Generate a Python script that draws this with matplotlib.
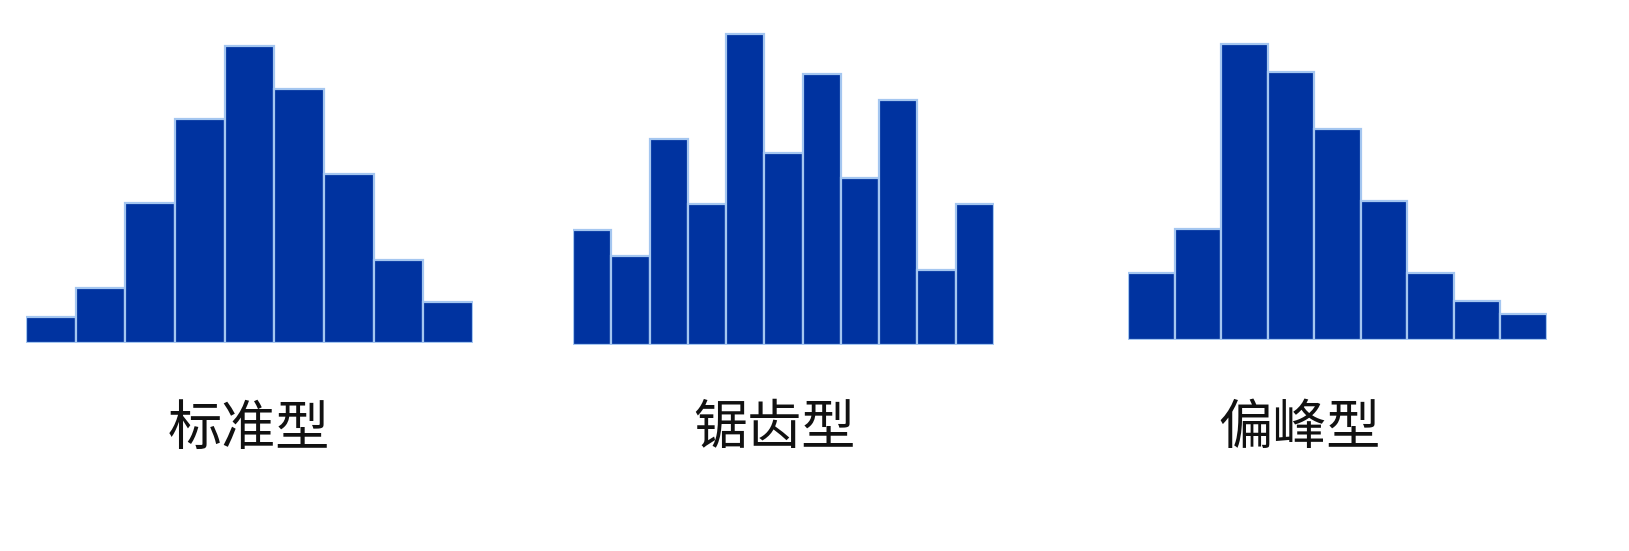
import matplotlib.pyplot as plt

plt.rcParams['font.family'] = ['Noto Sans CJK SC', 'DejaVu Sans']

# bar heights (arbitrary units)
standard = [26, 55, 140, 224, 297, 254, 169, 83, 41]
sawtooth = [115, 89, 206, 141, 311, 192, 271, 167, 245, 75, 141]
skewed = [67, 111, 296, 268, 211, 139, 67, 39, 26]
labels = ["标准型", "锯齿型", "偏峰型"]

W, H = 1629, 551
fig = plt.figure(figsize=(W / 100, H / 100), dpi=100)

# (left px, baseline px, width px, label center x px)
panels = [
    (standard, 26, 343, 447, 249),
    (sawtooth, 573, 345, 421, 774),
    (skewed, 1128, 340, 419, 1300),
]

top = 330
for (vals, left, base, width, lx), lab in zip(panels, labels):
    ax = fig.add_axes([left / W, (H - base) / H, width / W, top / H])
    ax.bar(range(len(vals)), vals, width=1.0, color='#0033a0',
           edgecolor='#a4c6f0', linewidth=1.6)
    ax.set_xlim(-0.5, len(vals) - 0.5)
    ax.set_ylim(0, top)
    ax.axis('off')
    fig.text(lx / W, (H - 429) / H, lab, fontsize=39, ha='center', va='center',
             color='#111111')

fig.savefig('out.png', dpi=100, facecolor='white')
